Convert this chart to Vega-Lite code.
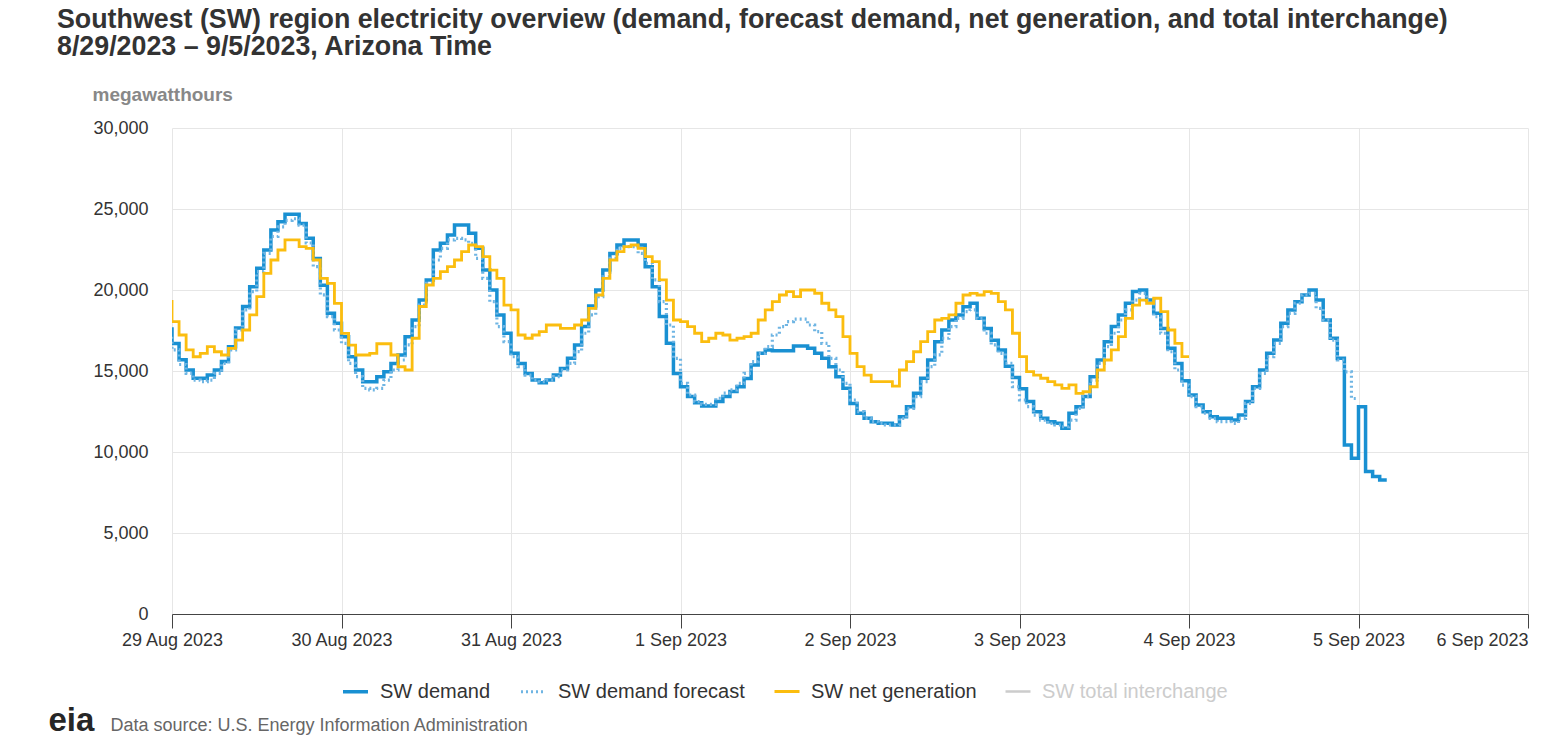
{
  "$schema": "https://vega.github.io/schema/vega-lite/v6.json",
  "width": 1356,
  "height": 486,
  "autosize": {"type": "none"},
  "padding": {"left": 172, "top": 128, "right": 39, "bottom": 131},
  "background": "#ffffff",
  "config": {"font": "Liberation Sans", "view": {"stroke": null}},
  "title": {
    "text": ["Southwest (SW) region electricity overview (demand, forecast demand, net generation, and total interchange)", "8/29/2023 – 9/5/2023, Arizona Time"],
    "anchor": "start",
    "frame": "group",
    "dx": -115,
    "fontSize": 26.8,
    "fontWeight": "bold",
    "color": "#333333",
    "lineHeight": 27,
    "baseline": "alphabetic",
    "offset": 3
  },
  "data": {
    "values": [
      {"t": "2023-08-28T23:00", "d": 17600, "f": 17300, "g": 19300},
      {"t": "2023-08-29T00:00", "d": 16700, "f": 16300, "g": 18050},
      {"t": "2023-08-29T01:00", "d": 15700, "f": 15400, "g": 17220},
      {"t": "2023-08-29T02:00", "d": 15060, "f": 14850, "g": 16300},
      {"t": "2023-08-29T03:00", "d": 14550, "f": 14440, "g": 15880},
      {"t": "2023-08-29T04:00", "d": 14550, "f": 14340, "g": 16090},
      {"t": "2023-08-29T05:00", "d": 14750, "f": 14440, "g": 16500},
      {"t": "2023-08-29T06:00", "d": 15060, "f": 14850, "g": 16190},
      {"t": "2023-08-29T07:00", "d": 15580, "f": 15470, "g": 15990},
      {"t": "2023-08-29T08:00", "d": 16500, "f": 16300, "g": 16400},
      {"t": "2023-08-29T09:00", "d": 17650, "f": 17530, "g": 16910},
      {"t": "2023-08-29T10:00", "d": 18980, "f": 18770, "g": 17530},
      {"t": "2023-08-29T11:00", "d": 20200, "f": 19900, "g": 18460},
      {"t": "2023-08-29T12:00", "d": 21340, "f": 21130, "g": 19590},
      {"t": "2023-08-29T13:00", "d": 22470, "f": 22260, "g": 21030},
      {"t": "2023-08-29T14:00", "d": 23700, "f": 23300, "g": 21850},
      {"t": "2023-08-29T15:00", "d": 24220, "f": 23900, "g": 22470},
      {"t": "2023-08-29T16:00", "d": 24680, "f": 24300, "g": 23090},
      {"t": "2023-08-29T17:00", "d": 24680, "f": 24400, "g": 23090},
      {"t": "2023-08-29T18:00", "d": 24100, "f": 24000, "g": 22680},
      {"t": "2023-08-29T19:00", "d": 23190, "f": 22900, "g": 22570},
      {"t": "2023-08-29T20:00", "d": 21950, "f": 21440, "g": 21850},
      {"t": "2023-08-29T21:00", "d": 20300, "f": 19700, "g": 20720},
      {"t": "2023-08-29T22:00", "d": 18570, "f": 18360, "g": 20410},
      {"t": "2023-08-29T23:00", "d": 17940, "f": 17530, "g": 19170},
      {"t": "2023-08-30T00:00", "d": 17120, "f": 16710, "g": 17320},
      {"t": "2023-08-30T01:00", "d": 15880, "f": 15470, "g": 16600},
      {"t": "2023-08-30T02:00", "d": 15060, "f": 14650, "g": 15990},
      {"t": "2023-08-30T03:00", "d": 14340, "f": 13930, "g": 15990},
      {"t": "2023-08-30T04:00", "d": 14340, "f": 13830, "g": 16090},
      {"t": "2023-08-30T05:00", "d": 14650, "f": 13930, "g": 16680},
      {"t": "2023-08-30T06:00", "d": 14960, "f": 14440, "g": 16680},
      {"t": "2023-08-30T07:00", "d": 15470, "f": 15060, "g": 15990},
      {"t": "2023-08-30T08:00", "d": 15990, "f": 15680, "g": 15260},
      {"t": "2023-08-30T09:00", "d": 17120, "f": 16610, "g": 15060},
      {"t": "2023-08-30T10:00", "d": 18150, "f": 17740, "g": 17020},
      {"t": "2023-08-30T11:00", "d": 19380, "f": 19070, "g": 18980},
      {"t": "2023-08-30T12:00", "d": 20620, "f": 20410, "g": 20310},
      {"t": "2023-08-30T13:00", "d": 22470, "f": 21850, "g": 20720},
      {"t": "2023-08-30T14:00", "d": 22880, "f": 22570, "g": 21130},
      {"t": "2023-08-30T15:00", "d": 23400, "f": 23090, "g": 21440},
      {"t": "2023-08-30T16:00", "d": 24010, "f": 23190, "g": 21850},
      {"t": "2023-08-30T17:00", "d": 24010, "f": 23090, "g": 22370},
      {"t": "2023-08-30T18:00", "d": 23500, "f": 22880, "g": 22780},
      {"t": "2023-08-30T19:00", "d": 22570, "f": 21950, "g": 22680},
      {"t": "2023-08-30T20:00", "d": 21230, "f": 20720, "g": 22060},
      {"t": "2023-08-30T21:00", "d": 20000, "f": 19280, "g": 21230},
      {"t": "2023-08-30T22:00", "d": 18460, "f": 17740, "g": 20720},
      {"t": "2023-08-30T23:00", "d": 17330, "f": 16810, "g": 19070},
      {"t": "2023-08-31T00:00", "d": 16090, "f": 15880, "g": 18770},
      {"t": "2023-08-31T01:00", "d": 15470, "f": 15270, "g": 17220},
      {"t": "2023-08-31T02:00", "d": 14850, "f": 14750, "g": 17020},
      {"t": "2023-08-31T03:00", "d": 14440, "f": 14440, "g": 17220},
      {"t": "2023-08-31T04:00", "d": 14280, "f": 14340, "g": 17430},
      {"t": "2023-08-31T05:00", "d": 14440, "f": 14440, "g": 17840},
      {"t": "2023-08-31T06:00", "d": 14750, "f": 14650, "g": 17840},
      {"t": "2023-08-31T07:00", "d": 15160, "f": 15060, "g": 17630},
      {"t": "2023-08-31T08:00", "d": 15780, "f": 15470, "g": 17630},
      {"t": "2023-08-31T09:00", "d": 16610, "f": 16200, "g": 17840},
      {"t": "2023-08-31T10:00", "d": 17740, "f": 17330, "g": 18150},
      {"t": "2023-08-31T11:00", "d": 19020, "f": 18460, "g": 18870},
      {"t": "2023-08-31T12:00", "d": 20000, "f": 19590, "g": 19690},
      {"t": "2023-08-31T13:00", "d": 21230, "f": 20820, "g": 20720},
      {"t": "2023-08-31T14:00", "d": 22260, "f": 21950, "g": 21850},
      {"t": "2023-08-31T15:00", "d": 22780, "f": 22570, "g": 22370},
      {"t": "2023-08-31T16:00", "d": 23090, "f": 22680, "g": 22680},
      {"t": "2023-08-31T17:00", "d": 23090, "f": 22680, "g": 22780},
      {"t": "2023-08-31T18:00", "d": 22780, "f": 22260, "g": 22570},
      {"t": "2023-08-31T19:00", "d": 21440, "f": 21650, "g": 22060},
      {"t": "2023-08-31T20:00", "d": 20200, "f": 20620, "g": 21750},
      {"t": "2023-08-31T21:00", "d": 18360, "f": 19280, "g": 20620},
      {"t": "2023-08-31T22:00", "d": 16710, "f": 17840, "g": 19380},
      {"t": "2023-08-31T23:00", "d": 14850, "f": 15780, "g": 18150},
      {"t": "2023-09-01T00:00", "d": 14030, "f": 14240, "g": 18050},
      {"t": "2023-09-01T01:00", "d": 13420, "f": 13520, "g": 17740},
      {"t": "2023-09-01T02:00", "d": 13040, "f": 13110, "g": 17330},
      {"t": "2023-09-01T03:00", "d": 12840, "f": 12940, "g": 16810},
      {"t": "2023-09-01T04:00", "d": 12840, "f": 12940, "g": 17020},
      {"t": "2023-09-01T05:00", "d": 13110, "f": 13320, "g": 17330},
      {"t": "2023-09-01T06:00", "d": 13420, "f": 13630, "g": 17220},
      {"t": "2023-09-01T07:00", "d": 13730, "f": 13830, "g": 16910},
      {"t": "2023-09-01T08:00", "d": 14030, "f": 14240, "g": 17020},
      {"t": "2023-09-01T09:00", "d": 14540, "f": 14850, "g": 17120},
      {"t": "2023-09-01T10:00", "d": 15370, "f": 15580, "g": 17330},
      {"t": "2023-09-01T11:00", "d": 16090, "f": 16090, "g": 18150},
      {"t": "2023-09-01T12:00", "d": 16300, "f": 16500, "g": 18770},
      {"t": "2023-09-01T13:00", "d": 16250, "f": 17220, "g": 19280},
      {"t": "2023-09-01T14:00", "d": 16250, "f": 17740, "g": 19690},
      {"t": "2023-09-01T15:00", "d": 16250, "f": 18050, "g": 19900},
      {"t": "2023-09-01T16:00", "d": 16540, "f": 18200, "g": 19590},
      {"t": "2023-09-01T17:00", "d": 16540, "f": 18200, "g": 20000},
      {"t": "2023-09-01T18:00", "d": 16400, "f": 17840, "g": 20000},
      {"t": "2023-09-01T19:00", "d": 16090, "f": 17430, "g": 19800},
      {"t": "2023-09-01T20:00", "d": 15780, "f": 16710, "g": 19180},
      {"t": "2023-09-01T21:00", "d": 15270, "f": 15780, "g": 18770},
      {"t": "2023-09-01T22:00", "d": 14650, "f": 15060, "g": 18360},
      {"t": "2023-09-01T23:00", "d": 13930, "f": 14240, "g": 17120},
      {"t": "2023-09-02T00:00", "d": 13000, "f": 13210, "g": 16090},
      {"t": "2023-09-02T01:00", "d": 12390, "f": 12490, "g": 15270},
      {"t": "2023-09-02T02:00", "d": 12080, "f": 12080, "g": 14750},
      {"t": "2023-09-02T03:00", "d": 11870, "f": 11870, "g": 14340},
      {"t": "2023-09-02T04:00", "d": 11770, "f": 11770, "g": 14340},
      {"t": "2023-09-02T05:00", "d": 11770, "f": 11670, "g": 14340},
      {"t": "2023-09-02T06:00", "d": 11670, "f": 11670, "g": 14070},
      {"t": "2023-09-02T07:00", "d": 12180, "f": 12080, "g": 15060},
      {"t": "2023-09-02T08:00", "d": 12800, "f": 12690, "g": 15580},
      {"t": "2023-09-02T09:00", "d": 13620, "f": 13420, "g": 16190},
      {"t": "2023-09-02T10:00", "d": 14550, "f": 14340, "g": 16810},
      {"t": "2023-09-02T11:00", "d": 15680, "f": 15270, "g": 17430},
      {"t": "2023-09-02T12:00", "d": 16810, "f": 16000, "g": 18150},
      {"t": "2023-09-02T13:00", "d": 17530, "f": 17020, "g": 18250},
      {"t": "2023-09-02T14:00", "d": 18150, "f": 17740, "g": 18460},
      {"t": "2023-09-02T15:00", "d": 18460, "f": 18250, "g": 19180},
      {"t": "2023-09-02T16:00", "d": 18970, "f": 18660, "g": 19690},
      {"t": "2023-09-02T17:00", "d": 19180, "f": 18770, "g": 19790},
      {"t": "2023-09-02T18:00", "d": 18250, "f": 18250, "g": 19690},
      {"t": "2023-09-02T19:00", "d": 17630, "f": 17330, "g": 19900},
      {"t": "2023-09-02T20:00", "d": 16900, "f": 16610, "g": 19790},
      {"t": "2023-09-02T21:00", "d": 16300, "f": 16090, "g": 19280},
      {"t": "2023-09-02T22:00", "d": 15300, "f": 15470, "g": 18770},
      {"t": "2023-09-02T23:00", "d": 14600, "f": 14030, "g": 17330},
      {"t": "2023-09-03T00:00", "d": 13900, "f": 13210, "g": 15890},
      {"t": "2023-09-03T01:00", "d": 13110, "f": 12800, "g": 14960},
      {"t": "2023-09-03T02:00", "d": 12490, "f": 12280, "g": 14750},
      {"t": "2023-09-03T03:00", "d": 12080, "f": 11970, "g": 14550},
      {"t": "2023-09-03T04:00", "d": 11870, "f": 11770, "g": 14340},
      {"t": "2023-09-03T05:00", "d": 11770, "f": 11670, "g": 14140},
      {"t": "2023-09-03T06:00", "d": 11460, "f": 11560, "g": 13930},
      {"t": "2023-09-03T07:00", "d": 12390, "f": 11970, "g": 14140},
      {"t": "2023-09-03T08:00", "d": 12800, "f": 12690, "g": 13620},
      {"t": "2023-09-03T09:00", "d": 13420, "f": 13420, "g": 13720},
      {"t": "2023-09-03T10:00", "d": 14650, "f": 14440, "g": 14030},
      {"t": "2023-09-03T11:00", "d": 15680, "f": 15470, "g": 15060},
      {"t": "2023-09-03T12:00", "d": 16810, "f": 16500, "g": 15680},
      {"t": "2023-09-03T13:00", "d": 17740, "f": 17330, "g": 16300},
      {"t": "2023-09-03T14:00", "d": 18460, "f": 18150, "g": 17120},
      {"t": "2023-09-03T15:00", "d": 19180, "f": 18770, "g": 18250},
      {"t": "2023-09-03T16:00", "d": 19900, "f": 19380, "g": 19070},
      {"t": "2023-09-03T17:00", "d": 20000, "f": 19790, "g": 19380},
      {"t": "2023-09-03T18:00", "d": 19380, "f": 19380, "g": 19180},
      {"t": "2023-09-03T19:00", "d": 18570, "f": 18350, "g": 19490},
      {"t": "2023-09-03T20:00", "d": 17630, "f": 17330, "g": 18660},
      {"t": "2023-09-03T21:00", "d": 16400, "f": 16190, "g": 17530},
      {"t": "2023-09-03T22:00", "d": 15470, "f": 15060, "g": 16710},
      {"t": "2023-09-03T23:00", "d": 14400, "f": 14130, "g": 15890},
      {"t": "2023-09-04T00:00", "d": 13520, "f": 13420, "g": 15890},
      {"t": "2023-09-04T01:00", "d": 12900, "f": 12800},
      {"t": "2023-09-04T02:00", "d": 12490, "f": 12390},
      {"t": "2023-09-04T03:00", "d": 12180, "f": 12080},
      {"t": "2023-09-04T04:00", "d": 12080, "f": 11870},
      {"t": "2023-09-04T05:00", "d": 12080, "f": 11870},
      {"t": "2023-09-04T06:00", "d": 11975, "f": 11770},
      {"t": "2023-09-04T07:00", "d": 12280, "f": 12080},
      {"t": "2023-09-04T08:00", "d": 13110, "f": 13000},
      {"t": "2023-09-04T09:00", "d": 14030, "f": 13930},
      {"t": "2023-09-04T10:00", "d": 15060, "f": 14850},
      {"t": "2023-09-04T11:00", "d": 16090, "f": 15880},
      {"t": "2023-09-04T12:00", "d": 16910, "f": 16710},
      {"t": "2023-09-04T13:00", "d": 17940, "f": 17740},
      {"t": "2023-09-04T14:00", "d": 18770, "f": 18560},
      {"t": "2023-09-04T15:00", "d": 19280, "f": 19180},
      {"t": "2023-09-04T16:00", "d": 19690, "f": 19690},
      {"t": "2023-09-04T17:00", "d": 20000, "f": 19790},
      {"t": "2023-09-04T18:00", "d": 19380, "f": 18870},
      {"t": "2023-09-04T19:00", "d": 18150, "f": 18150},
      {"t": "2023-09-04T20:00", "d": 17020, "f": 16910},
      {"t": "2023-09-04T21:00", "d": 15780, "f": 15680},
      {"t": "2023-09-04T22:00", "d": 10430, "f": 14950},
      {"t": "2023-09-04T23:00", "d": 9610, "f": 13300},
      {"t": "2023-09-05T00:00", "d": 12800, "f": 13300},
      {"t": "2023-09-05T01:00", "d": 8790},
      {"t": "2023-09-05T02:00", "d": 8480},
      {"t": "2023-09-05T03:00", "d": 8270},
      {"t": "2023-09-05T04:00", "d": 8270}
    ]
  },
  "transform": [
    {"fold": ["d", "f", "g"], "as": ["s", "v"]},
    {"filter": "isValid(datum.v)"}
  ],
  "encoding": {
    "x": {
      "field": "t",
      "type": "temporal",
      "scale": {"domain": [{"year": 2023, "month": 8, "date": 29}, {"year": 2023, "month": 9, "date": 6}]},
      "axis": {
        "format": "%-d %b %Y",
        "tickCount": {"interval": "day", "step": 1},
        "labelFontSize": 18,
        "labelColor": "#333333",
        "labelPadding": 3,
        "labelFlush": false,
        "labelOverlap": false,
        "labelAlign": {"condition": {"test": "datum.index == 1", "value": "right"}, "value": "center"},
        "tickSize": 14,
        "tickColor": "#444444",
        "domainColor": "#444444",
        "gridColor": "#e6e6e6",
        "title": "Data source: U.S. Energy Information Administration",
        "titleX": -62,
        "titleY": 116,
        "titleAlign": "left",
        "titleAnchor": "start",
        "titleBaseline": "alphabetic",
        "titleFontSize": 18,
        "titleFontWeight": "normal",
        "titleColor": "#666666"
      }
    }
  },
  "layer": [
    {
      "mark": {"type": "line", "interpolate": "step-after", "clip": true},
      "encoding": {
        "y": {
          "field": "v",
          "type": "quantitative",
          "scale": {"domain": [0, 30000]},
          "axis": {
            "values": [0, 5000, 10000, 15000, 20000, 25000, 30000],
            "format": ",d",
            "labelFontSize": 18,
            "labelColor": "#333333",
            "labelPadding": 24,
            "ticks": false,
            "domain": false,
            "gridColor": "#e6e6e6",
            "title": "megawatthours",
            "titleAngle": 0,
            "titleAlign": "left",
            "titleBaseline": "alphabetic",
            "titleX": -80,
            "titleY": -28,
            "titleFontSize": 19,
            "titleFontWeight": "bold",
            "titleColor": "#888888"
          }
        },
        "color": {
          "field": "s",
          "type": "nominal",
          "scale": {"domain": ["d", "f", "g", "i"], "range": ["#1990d2", "#6fb5e3", "#fbbd0f", "#cccccc"]},
          "legend": {
            "title": null,
            "orient": "none",
            "legendX": 169,
            "legendY": 549,
            "direction": "horizontal",
            "symbolType": "stroke",
            "symbolSize": 625,
            "symbolStrokeWidth": 3,
            "labelFontSize": 20,
            "labelLimit": 500,
            "labelOffset": 10,
            "columnPadding": 23,
            "labelExpr": "datum.value == 'd' ? 'SW demand' : datum.value == 'f' ? 'SW demand forecast' : datum.value == 'g' ? 'SW net generation' : 'SW total interchange'",
            "encode": {"labels": {"update": {"fill": {"signal": "datum.value == 'i' ? '#cccccc' : '#333333'"}}}}
          }
        },
        "strokeDash": {
          "field": "s",
          "type": "nominal",
          "scale": {"domain": ["d", "f", "g", "i"], "range": [[1, 0], [2, 3], [1, 0], [1, 0]]},
          "legend": {
            "title": null,
            "orient": "none",
            "legendX": 169,
            "legendY": 549,
            "direction": "horizontal",
            "symbolType": "stroke",
            "symbolSize": 625,
            "symbolStrokeWidth": 3,
            "labelFontSize": 20,
            "labelLimit": 500,
            "labelOffset": 10,
            "columnPadding": 23,
            "labelExpr": "datum.value == 'd' ? 'SW demand' : datum.value == 'f' ? 'SW demand forecast' : datum.value == 'g' ? 'SW net generation' : 'SW total interchange'",
            "encode": {"labels": {"update": {"fill": {"signal": "datum.value == 'i' ? '#cccccc' : '#333333'"}}}}
          }
        },
        "strokeWidth": {
          "field": "s",
          "type": "nominal",
          "scale": {"domain": ["d", "f", "g", "i"], "range": [3.5, 2.5, 3.5, 3]},
          "legend": null
        }
      }
    },
    {
      "mark": {"type": "line", "opacity": 0, "clip": true},
      "encoding": {
        "y": {
          "field": "v",
          "type": "quantitative",
          "axis": {
            "orient": "right",
            "labels": false,
            "ticks": false,
            "domain": false,
            "grid": false,
            "title": "eia",
            "titleAngle": 0,
            "titleAlign": "left",
            "titleBaseline": "alphabetic",
            "titleX": -1480,
            "titleY": 602,
            "titleFontSize": 33,
            "titleFontWeight": "bold",
            "titleColor": "#262626"
          }
        }
      }
    }
  ],
  "resolve": {"scale": {"y": "independent"}}
}
